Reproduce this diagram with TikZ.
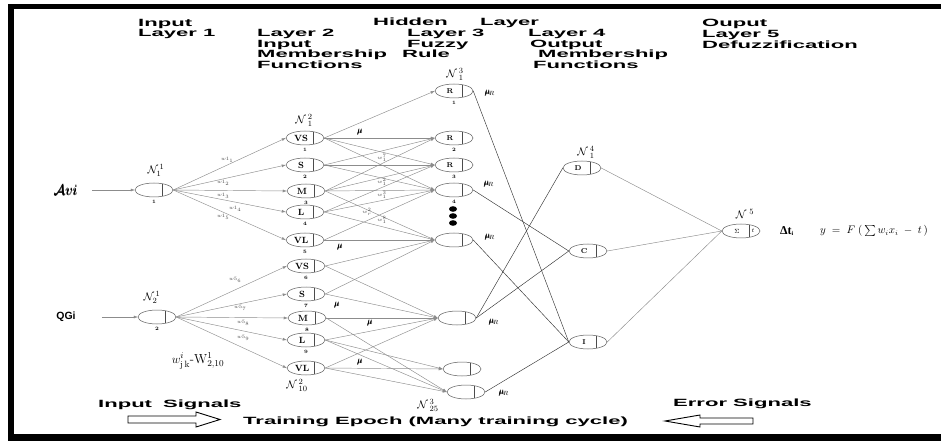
\documentclass[tikz,border=0pt]{standalone}
\usepackage{amsmath}
\usepackage{fontspec}
\usetikzlibrary{shapes.geometric,arrows.meta}
\newfontfamily\headfont{Liberation Sans}[FakeStretch=2.1]
\newfontfamily\plainsans{Liberation Sans}
\newfontfamily\plainserif{Liberation Serif}
% neuron: {label size}{name}{position}{label}{index}
\newcommand{\neuron}[5]{%
  \node[neuron] (#2) at (#3) {};
  \draw[black!70, line width=.5pt] ([shift={(8pt,6.3pt)}]#2.center) -- ([shift={(8pt,-6.3pt)}]#2.center);
  \node[celltext, font=\bfseries\fontsize{#1}{#1}\selectfont] (#2t) at ([xshift=-4pt]#2.center) {#4};
  \node[idxlbl] (#2i) at ([yshift=-11.5pt]#2.center) {#5};
}

\begin{document}
\begin{tikzpicture}[x=1pt, y=-1pt,
    neuron/.style={ellipse, draw=black!65, line width=.5pt, minimum width=38pt, minimum height=14pt, inner sep=0pt},
    celltext/.style={inner sep=0pt},
    idxlbl/.style={inner sep=0pt, font=\bfseries\fontsize{5}{5}\selectfont},
    wire/.style={draw=black!45, line width=.45pt},
    rulelink/.style={draw=black!80, line width=.45pt},
    arw/.style={-{Latex[length=4pt,width=3pt]}},
    heading/.style={anchor=base west, inner sep=0pt, font=\headfont\bfseries\fontsize{10.5}{10.7}\selectfont},
    nlbl/.style={inner sep=0pt, font=\fontsize{11}{11}\selectfont},
    wlbl/.style={inner sep=0pt, text=black!70, font=\fontsize{5}{5}\selectfont},
    mulbl/.style={inner sep=0pt, font=\fontsize{8}{8}\selectfont}
]
\useasboundingbox (0,0) rectangle (941,443);

% frame
\fill[black] (8,4) rectangle (941,9.5);
\fill[black] (8,4) rectangle (13.5,441);
\fill[black] (8,433.5) rectangle (941,441);

% headings
\node[heading] (h1a) at (138,27) {Input};
\node[heading] (h1b) at (138,37) {Layer 1};
\node[heading] (h2a) at (257,37) {Layer 2};
\node[heading] (h2b) at (257,47.5) {Input};
\node[heading] (h2c) at (257,58) {Membership};
\node[heading] (h2d) at (257,68.5) {Functions};
\node[heading] (hh) at (373,26) {Hidden};
\node[heading] (hl) at (480,26) {Layer};
\node[heading] (h3a) at (407,36.5) {Layer 3};
\node[heading] (h3b) at (407,47.5) {Fuzzy};
\node[heading] (h3c) at (402,58) {Rule};
\node[heading] (h4a) at (528,37) {Layer 4};
\node[heading] (h4b) at (530,47.5) {Output};
\node[heading] (h4c) at (538,58) {Membership};
\node[heading] (h4d) at (533,68.5) {Functions};
\node[heading] (h5a) at (702,27) {Ouput};
\node[heading] (h5b) at (702,37.5) {Layer 5};
\node[heading] (h5c) at (702,48.5) {Defuzzification};

% layer 1
\neuron{9}{in1}{154,190}{}{1}
\neuron{9}{in2}{157,317}{}{2}
\node[nlbl, font=\fontsize{15}{15}\selectfont] (avi) at (66,190) {$\pmb{\mathcal{A}vi}$};
\node[inner sep=0pt, font=\plainsans\bfseries\fontsize{10.5}{10.5}\selectfont] (qgi) at (66,317) {QGi};
\draw[wire, arw, shorten <=14pt] (avi.east) -- (in1.west);
\draw[wire, arw, shorten <=26pt] (qgi.east) -- (in2.west);
\node[nlbl] (n11) at (156,170) {$\mathcal{N}_{1}^{\,1}$};
\node[nlbl] (n21) at (152,297) {$\mathcal{N}_{2}^{\,1}$};
\node[nlbl, font=\fontsize{13}{13}\selectfont] (wjk) at (198,361) {$w^{i}_{\mathrm{j\,k}}\text{-}\mathrm{W}^{1}_{2,10}$};

% layer 2
\neuron{9}{mf1}{305,138}{VS}{1}
\neuron{9}{mf2}{305,165}{S}{2}
\neuron{9}{mf3}{306,191}{M}{3}
\neuron{9}{mf4}{305,212}{L}{4}
\neuron{9}{mf5}{305,240}{VL}{5}
\neuron{9}{mf6}{306,266}{VS}{6}
\neuron{9}{mf7}{306,294}{S}{7}
\neuron{9}{mf8}{307,318}{M}{8}
\neuron{9}{mf9}{306,340}{L}{9}
\neuron{9}{mf10}{306,368}{VL}{}
\node[nlbl] (n12) at (304,120) {$\mathcal{N}\,{}^{2}_{1}$};
\node[nlbl] (n102) at (297,385) {$\mathcal{N}\,{}^{2}_{10}$};

% layer 3
\neuron{7}{r1}{454,91}{R}{1}
\neuron{7}{r2}{454,138}{R}{2}
\neuron{7}{r3}{454,165}{R}{3}
\neuron{7}{r4}{454,190}{}{4}
\neuron{7}{r5}{454,240}{}{}
\neuron{7}{r6}{457,318}{}{}
\neuron{7}{r7}{462,369}{}{}
\neuron{7}{r8}{466,392}{}{}
\node[nlbl] (n13) at (455,74) {$\mathcal{N}\,{}^{3}_{1}$};
\node[nlbl] (n253) at (428,405) {$\mathcal{N}\,{}^{3}_{25}$};
\foreach \i in {209,216,223}
    \fill (453,\i) ellipse [x radius=4pt, y radius=2.8pt];

% layer 4
\neuron{7}{out1}{582,168}{D}{}
\neuron{7}{out2}{588,251}{C}{}
\neuron{7}{out3}{588,342}{I}{}
\node[nlbl] (n14) at (586,152) {$\mathcal{N}\,{}^{4}_{1}$};

% layer 5
\neuron{6}{defz}{741,231}{$\Sigma$}{}
\node[inner sep=0pt, font=\fontsize{6}{6}\selectfont] (tt) at (753,231) {$t$};
\node[nlbl] (n5) at (745,214) {$\mathcal{N}\;{}^{5}$};
\node[inner sep=0pt, font=\plainserif\bfseries\fontsize{12}{12}\selectfont] (dt) at (787,231) {Δt\textsubscript{\fontsize{6}{6}\selectfont i}};
\node[inner sep=0pt, font=\fontsize{10.5}{10.5}\selectfont] (fx) at (874,231) {$y\;=\;F\;(\,\sum w_i x_i\;-\;t\,)$};

% layer 1 -> layer 2
\foreach \j in {1,...,5}
    \draw[wire, arw] (in1.east) -- (mf\j.west);
\foreach \j in {6,...,10}
    \draw[wire, arw] (in2.east) -- (mf\j.west);
\node[wlbl] (w1) at (227,160) {$w1_{1}$};
\node[wlbl] (w2) at (223,183) {$w1_{2}$};
\node[wlbl] (w3) at (223,196) {$w1_{3}$};
\node[wlbl] (w4) at (235,209) {$w1_{4}$};
\node[wlbl] (w5) at (223,217) {$w1_{5}$};
\node[wlbl] (w6) at (235,280) {$w5_{6}$};
\node[wlbl] (w7) at (240,308) {$w5_{7}$};
\node[wlbl] (w8) at (243,323) {$w5_{8}$};
\node[wlbl] (w9) at (243,338) {$w5_{9}$};

% layer 2 -> layer 3
\foreach \a/\b in {1/1,1/2,1/3,1/4,2/2,2/3,2/4,3/2,3/3,3/4,3/5,4/3,4/4,4/5,5/4,5/5,
                   6/5,6/6,7/5,7/6,8/6,8/8,9/6,9/7,9/8,10/6,10/7,10/8}
    \draw[wire, arw] (mf\a.east) -- (r\b.west);
\node[wlbl] (v1) at (382,158) {$w^{7}_{1}$};
\node[wlbl] (v2) at (382,182) {$w^{2}_{1}$};
\node[wlbl] (v3) at (382,195) {$w^{3}_{1}$};
\node[wlbl] (v4) at (367,212) {$w^{2}_{r}$};
\node[wlbl] (v5) at (382,220) {$w^{8}_{1}$};
\node[mulbl] (mu1) at (360,132) {$\pmb{\mu}$};
\node[mulbl] (mu2) at (340,247) {$\pmb{\mu}$};
\node[mulbl] (mu3) at (337,305) {$\pmb{\mu}$};
\node[mulbl] (mu4) at (370,323) {$\pmb{\mu}$};
\node[mulbl] (mu5) at (360,362) {$\pmb{\mu}$};
\node[mulbl] (mr1) at (490,93) {$\pmb{\mu}_{\!R}$};
\node[mulbl] (mr2) at (489,184) {$\pmb{\mu}_{\!R}$};
\node[mulbl] (mr3) at (490,237) {$\pmb{\mu}_{\!R}$};
\node[mulbl] (mr4) at (494,322) {$\pmb{\mu}_{\!R}$};
\node[mulbl] (mr5) at (504,393) {$\pmb{\mu}_{\!R}$};

% layer 3 -> layer 4 -> layer 5
\foreach \a/\b in {1/3,4/2,5/3,6/1,6/2,8/3}
    \draw[rulelink] (r\a.east) -- (out\b.west);
\foreach \b in {1,2,3}
    \draw[wire] (out\b.east) -- (defz.west);

% training signals
\node[heading] (insig) at (98,407) {Input\hspace{11pt}Signals};
\node[heading] (epoch) at (243,424) {Training Epoch (Many training cycle)};
\node[heading] (errsig) at (673,406) {Error Signals};
\draw[line width=.9pt] (128,416) -- (196,416) -- (196,412) -- (220,419.5) -- (196,427) -- (196,423) -- (128,423) -- cycle;
\draw[line width=.9pt] (753,418) -- (700,418) -- (700,415) -- (665,421) -- (700,427) -- (700,424) -- (753,424) -- cycle;

\end{tikzpicture}
\end{document}
